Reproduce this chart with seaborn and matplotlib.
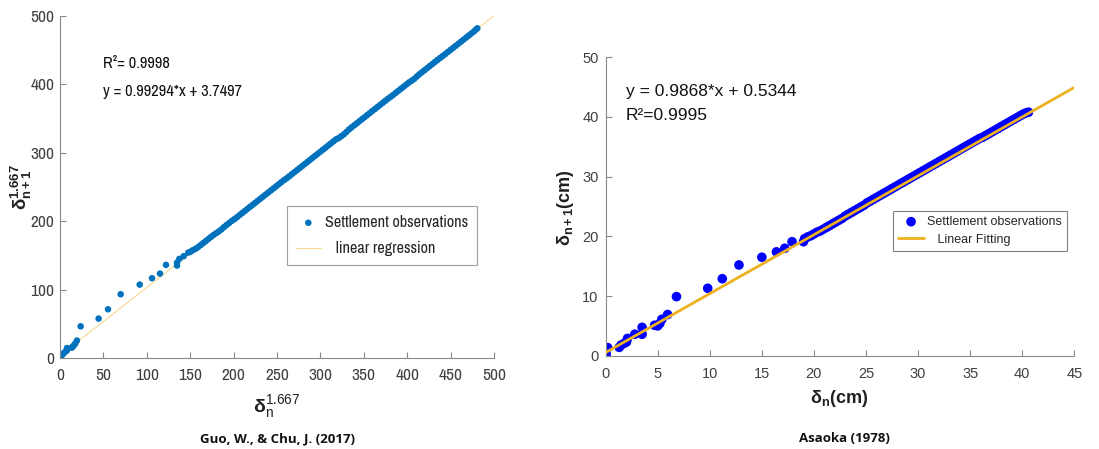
import os
import matplotlib
matplotlib.use("Agg")
import matplotlib.pyplot as plt
from matplotlib import font_manager as fm
import seaborn as sns
import pandas as pd

# ---------------- data: left panel (Guo & Chu 2017) ----------------
left_x = [0, 0.5, 1, 2, 3, 4, 6, 8, 8, 13.5, 14.5, 16, 17.5, 19.5,
          23.8, 44.5, 55.3, 69.9, 91.8, 106, 115.2, 122.1, 134.8, 134.8,
          137.5, 142.5, 147.8, 150.5,
          153, 156, 159, 162, 165, 168, 171, 174, 177, 180, 183, 186, 189,
          192, 195, 198,
          201, 204, 207, 210, 213, 216, 219, 222, 225, 228, 231, 234, 237,
          240, 243, 246, 249, 252, 255, 258,
          261, 264, 267, 270, 273, 276, 279, 282, 285, 288, 291, 294, 297,
          300, 303, 306, 309, 312, 315, 318,
          321, 324, 327, 330, 333, 336, 339, 342, 345, 348, 351, 354, 357,
          360, 363, 366, 369, 372, 375, 378,
          381, 384, 387, 390, 393, 396, 399, 402, 405, 408, 411, 414, 417,
          420, 423, 426, 429, 432, 435, 438,
          441, 444, 447, 450, 453, 456, 459, 462, 465, 468, 471, 474, 477,
          479, 480.8]
left_y = [0.5, 1.5, 2.5, 4, 5.5, 7, 9, 11, 14.5, 15, 16.5, 18.5, 21, 25.5,
          46.3, 57.6, 71.2, 93.2, 107.3, 116.6, 123.4, 136.1, 135.1, 139.5,
          144.9, 148.8, 154.1, 155.5,
          157.6, 159.5, 162, 165, 168, 171, 174, 177, 180, 182.5, 185, 188,
          191.5, 194.5, 197.5, 200.5,
          203, 206, 209, 212, 215, 218, 221, 224, 227, 230, 233, 236, 239,
          242, 245, 248, 251, 254, 257, 260,
          262.6, 265.6, 268.6, 271.6, 274.6, 277.6, 280.6, 283.6, 286.6,
          289.6, 292.6, 295.6, 298.6, 301.6, 304.6, 307.6, 310.6, 313.6,
          316.6, 319.6,
          321.5, 324.2, 327, 330.4, 334.2, 337.2, 340.2, 343.2, 346.2, 349.2,
          352.2, 355.2, 358.2, 361.2, 364.2, 367.2, 370.2, 373.2, 376.2,
          379.2,
          381.8, 384.8, 387.8, 390.8, 393.8, 396.8, 399.8, 402.8, 405.3, 408,
          411.5, 414.8, 417.8, 420.8, 423.8, 426.8, 429.8, 432.8, 435.8,
          438.8,
          441.5, 444.5, 447.5, 450.5, 453.5, 456.5, 459.5, 462.5, 465.5,
          468.5, 471.5, 474.5, 477.5, 480, 482]
left_slope, left_icpt = 0.99294, 3.7497
left_fit_x = [0, 500]

# ---------------- data: right panel (Asaoka 1978) ----------------
right_x = [0, 0.05, 0.2, 1.3, 1.5, 1.8, 2.0, 2.1, 2.8, 3.5, 3.5, 4.7, 5.0,
           5.2, 5.4, 5.95, 6.8, 9.8, 11.2, 12.8, 15.0, 16.4, 17.2, 17.9,
           19.0, 19.1, 19.4,
           19.7, 20.0, 20.3, 20.6, 20.9, 21.2, 21.5, 21.8, 22.1, 22.4, 22.7,
           23.0, 23.3, 23.6, 23.9, 24.2, 24.5, 24.8, 25.1, 25.4, 25.7, 26.0,
           26.3, 26.6, 26.9, 27.2, 27.5, 27.8, 28.1, 28.4, 28.7, 29.0, 29.3,
           29.6, 29.9, 30.2, 30.5, 30.8, 31.1, 31.4, 31.7, 32.0, 32.3, 32.6,
           32.9, 33.2, 33.5, 33.8, 34.1, 34.4, 34.7, 35.0, 35.3, 35.6, 35.9,
           36.2, 36.5, 36.8, 37.1, 37.4, 37.7, 38.0, 38.3, 38.6, 38.9, 39.2,
           39.5, 39.8, 40.1, 40.4, 40.6]
right_y = [0.0, 0.3, 1.35, 1.4, 1.8, 2.1, 2.3, 2.9, 3.6, 4.75, 3.6, 5.1, 5.0,
           5.4, 6.1, 6.9, 9.9, 11.3, 12.9, 15.2, 16.5, 17.4, 18.0, 19.1,
           19.1, 19.6, 19.9,
           20.1, 20.4, 20.7, 20.9, 21.2, 21.5, 21.8, 22.1, 22.4, 22.7, 23.0,
           23.4, 23.7, 24.0, 24.3, 24.6, 24.9, 25.2, 25.6, 25.9, 26.2, 26.5,
           26.8, 27.1, 27.4, 27.7, 28.0, 28.3, 28.6, 28.9, 29.2, 29.5, 29.8,
           30.1, 30.4, 30.7, 31.0, 31.3, 31.6, 31.9, 32.2, 32.5, 32.8, 33.1,
           33.4, 33.7, 34.0, 34.3, 34.6, 34.9, 35.2, 35.5, 35.8, 36.1, 36.4,
           36.6, 36.9, 37.2, 37.5, 37.8, 38.1, 38.4, 38.7, 39.0, 39.3, 39.6,
           39.9, 40.2, 40.5, 40.7, 40.8]
right_slope, right_icpt = 0.9868, 0.5344
right_fit_x = [0, 45]

left_xticks = [0, 50, 100, 150, 200, 250, 300, 350, 400, 450, 500]
left_yticks = [0, 100, 200, 300, 400, 500]
right_xticks = [0, 5, 10, 15, 20, 25, 30, 35, 40, 45]
right_yticks = [0, 10, 20, 30, 40, 50]

# ---------------- style ----------------
sns.set_style("ticks")
plt.rcParams["font.family"] = ["Liberation Sans", "DejaVu Sans"]
plt.rcParams["mathtext.fontset"] = "custom"
plt.rcParams["mathtext.rm"] = "Liberation Sans"
plt.rcParams["mathtext.it"] = "Liberation Sans"
plt.rcParams["mathtext.bf"] = "Liberation Sans:bold"

# look for a narrow (Arial-Narrow-like) face for the left panel
narrow_path = None
for f in fm.fontManager.ttflist:
    fn = os.path.basename(f.fname).lower()
    nm = f.name.lower()
    if ("narrow" in fn or "narrow" in nm) and "bold" not in fn and "italic" not in fn:
        narrow_path = f.fname
        break


def nfp(size):
    if narrow_path:
        return fm.FontProperties(fname=narrow_path, size=size)
    return fm.FontProperties(family="Liberation Sans", size=size * 0.83)


fig = plt.figure(figsize=(10.99, 4.49), dpi=100)
axL = fig.add_axes([0.0546, 0.2027, 0.3949, 0.7617])
axR = fig.add_axes([0.5511, 0.2078, 0.4264, 0.6646])

spine_c = "#8a8a8a"
tick_c = "#404040"

# ---- left ----
dfL = pd.DataFrame({"x": left_x, "y": left_y})
fitL = pd.DataFrame({"x": left_fit_x,
                     "y": [left_slope * v + left_icpt for v in left_fit_x]})
sns.lineplot(data=fitL, x="x", y="y", ax=axL, color="#F8D98E", lw=0.8,
             label="   linear regression", zorder=1)
sns.scatterplot(data=dfL, x="x", y="y", ax=axL, color="#0072BD", s=22,
                edgecolor="none", label="Settlement observations", zorder=2)
axL.set_xlim(0, 500)
axL.set_ylim(0, 500)
axL.set_xticks(left_xticks)
axL.set_yticks(left_yticks)
for lab in axL.get_xticklabels() + axL.get_yticklabels():
    lab.set_fontproperties(nfp(12.5))
    lab.set_color(tick_c)
axL.tick_params(direction="in", length=4, width=0.8, color=spine_c)
axL.tick_params(axis="x", pad=7)
axL.tick_params(axis="y", pad=4)
for s in ["top", "right"]:
    axL.spines[s].set_visible(False)
for s in ["left", "bottom"]:
    axL.spines[s].set_color(spine_c)
    axL.spines[s].set_linewidth(0.8)
axL.set_xlabel(r"$\mathbf{\delta}_{n}^{1.667}$", fontsize=14, color="#202020")
axL.set_ylabel(r"$\mathbf{\delta_{n+1}^{1.667}}$", fontsize=13.5, color="#202020")
axL.xaxis.set_label_coords(0.5, -0.143)
axL.xaxis.label.set_va("center")
axL.yaxis.set_label_coords(-0.088, 0.5)
axL.yaxis.label.set_va("center")
axL.text(49.5, 431, "R²= 0.9998", fontproperties=nfp(11.8),
         va="center", ha="left", color="#111111")
axL.text(49.5, 389, "y = 0.99294*x + 3.7497", fontproperties=nfp(11.8),
         va="center", ha="left", color="#111111")
h, l = axL.get_legend_handles_labels()
legL = axL.legend(h[::-1], l[::-1], loc="upper left",
                  bbox_to_anchor=(0.523, 0.444), borderaxespad=0,
                  fancybox=False, framealpha=1, edgecolor="#a0a0a0",
                  prop=nfp(11.6), handlelength=1.55, handletextpad=0.25,
                  borderpad=0.55, labelspacing=0.7)
legL.get_frame().set_linewidth(0.8)

# ---- right ----
dfR = pd.DataFrame({"x": right_x, "y": right_y})
fitR = pd.DataFrame({"x": right_fit_x,
                     "y": [right_slope * v + right_icpt for v in right_fit_x]})
sns.scatterplot(data=dfR, x="x", y="y", ax=axR, color="#0000FF", s=48,
                edgecolor="none", label="Settlement observations", zorder=2)
sns.lineplot(data=fitR, x="x", y="y", ax=axR, color="#EDB120", lw=2,
             label="   Linear Fitting", zorder=3)
axR.set_xlim(0, 45)
axR.set_ylim(0, 50)
axR.set_xticks(right_xticks)
axR.set_yticks(right_yticks)
for lab in axR.get_xticklabels() + axR.get_yticklabels():
    lab.set_fontsize(10.5)
    lab.set_color(tick_c)
axR.tick_params(direction="in", length=4, width=0.8, color=spine_c)
axR.tick_params(axis="x", pad=8)
axR.tick_params(axis="y", pad=5)
for s in ["top", "right"]:
    axR.spines[s].set_visible(False)
for s in ["left", "bottom"]:
    axR.spines[s].set_color(spine_c)
    axR.spines[s].set_linewidth(0.8)
axR.set_xlabel(r"$\mathbf{\delta_{n}(cm)}$", fontsize=13, color="#202020")
axR.set_ylabel(r"$\mathbf{\delta_{n+1}(cm)}$", fontsize=13, color="#202020")
axR.xaxis.set_label_coords(0.498, -0.145)
axR.xaxis.label.set_va("center")
axR.yaxis.set_label_coords(-0.085, 0.498)
axR.yaxis.label.set_va("center")
axR.text(1.92, 44.2, "y = 0.9868*x + 0.5344", fontsize=12.5,
         va="center", ha="left", color="#111111")
axR.text(1.92, 40.3, "R²=0.9995", fontsize=12.5,
         va="center", ha="left", color="#111111")
legR = axR.legend(loc="upper left", bbox_to_anchor=(0.613, 0.485),
                  borderaxespad=0, fancybox=False, framealpha=1,
                  edgecolor="#808080", prop={"size": 9}, handlelength=2.1,
                  handletextpad=0.25, borderpad=0.4, labelspacing=0.45)
legR.get_frame().set_linewidth(0.8)

fig.text(277 / 1099, 1 - 439 / 449, "Guo, W., & Chu, J. (2017)",
         family=["Open Sans", "DejaVu Sans"], fontweight="bold", fontsize=9.5,
         ha="center", va="center", color="#111111")
fig.text(844 / 1099, 1 - 439 / 449, "Asaoka (1978)",
         family=["Open Sans", "DejaVu Sans"], fontweight="bold", fontsize=9.5,
         ha="center", va="center", color="#111111")

fig.savefig("out.png", dpi=100)
